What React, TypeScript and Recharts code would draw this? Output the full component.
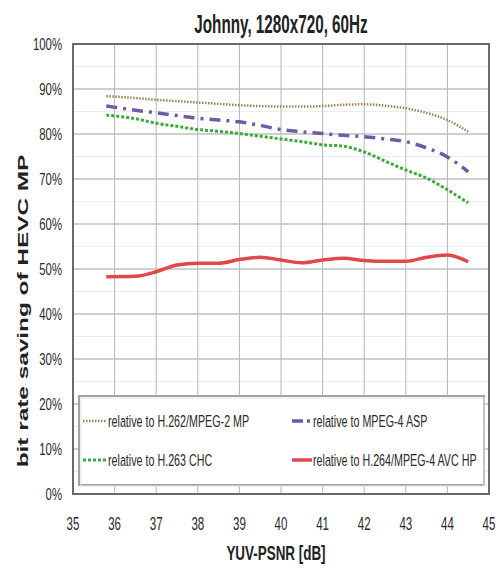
import React from 'react';
import { LineChart, Line, XAxis, YAxis, CartesianGrid } from 'recharts';

const title = 'Johnny, 1280x720, 60Hz';
const xLabel = 'YUV-PSNR [dB]';
const yLabel = 'bit rate saving of HEVC MP';

const psnr = [35.8, 36.5, 37, 37.5, 38, 38.5, 39, 39.5, 40, 40.5, 41, 41.5, 42, 42.5, 43, 43.5, 44, 44.5];
const vsMpeg2 = [88.4, 88.0, 87.6, 87.3, 87.0, 86.7, 86.4, 86.2, 86.1, 86.1, 86.2, 86.5, 86.6, 86.3, 85.7, 84.7, 83.1, 80.5];
const vsMpeg4 = [86.2, 85.3, 84.7, 84.1, 83.5, 83.1, 82.7, 81.9, 81.0, 80.5, 80.1, 79.7, 79.4, 78.9, 78.3, 76.9, 74.9, 71.6];
const vsH263 = [84.2, 83.4, 82.4, 81.7, 81.0, 80.6, 80.1, 79.5, 78.9, 78.3, 77.6, 77.3, 76.0, 74.0, 72.0, 70.2, 67.6, 64.7];
const vsAvc = [48.3, 48.4, 49.4, 50.9, 51.3, 51.3, 52.1, 52.6, 52.0, 51.4, 52.0, 52.4, 51.9, 51.7, 51.7, 52.6, 53.1, 51.6];

const xTicks = [35, 36, 37, 38, 39, 40, 41, 42, 43, 44, 45];
const yTicks = [0, 10, 20, 30, 40, 50, 60, 70, 80, 90, 100];
const yMinor = [5, 15, 25, 35, 45, 55, 65, 75, 85, 95];

const seriesNames = [
  'relative to H.262/MPEG-2 MP',
  'relative to MPEG-4 ASP',
  'relative to H.263 CHC',
  'relative to H.264/MPEG-4 AVC HP',
];

const data = psnr.map((x, i) => ({
  x,
  mpeg2: vsMpeg2[i],
  mpeg4: vsMpeg4[i],
  h263: vsH263[i],
  avc: vsAvc[i],
}));

const FONT = '"Liberation Sans", Arial, sans-serif';

const styles = [
  { key: 'mpeg2', color: '#9b8258', width: 2.5, dash: '1.5 1.5' as string | undefined },
  { key: 'mpeg4', color: '#6b5ca5', width: 3.5, dash: '11 6 3 6' as string | undefined },
  { key: 'h263', color: '#3aab3a', width: 3, dash: '3 2' as string | undefined },
  { key: 'avc', color: '#e2474b', width: 3.5, dash: undefined as string | undefined },
];

const legendSample = [
  { x1: 83, x2: 107, dash: '1.5 1.5' },
  { x1: 292, x2: 311, dash: '11 4 3 6' },
  { x1: 83, x2: 107, dash: '3 2' },
  { x1: 292, x2: 312, dash: undefined as string | undefined },
];

const YTick = (props: any) => {
  const { y, payload } = props;
  return (
    <g transform={`translate(62,${y})`}>
      <text transform="scale(0.69,1)" textAnchor="end" dy="0.36em" fontFamily={FONT} fontSize={16.5} fill="#2a2a2a">
        {`${payload.value}%`}
      </text>
    </g>
  );
};

const XTick = (props: any) => {
  const { x, payload } = props;
  return (
    <g transform={`translate(${x},530)`}>
      <text transform="scale(0.64,1)" textAnchor="middle" fontFamily={FONT} fontSize={18} fill="#2a2a2a">
        {payload.value}
      </text>
    </g>
  );
};

const LegendBox = () => (
  <svg width={499} height={575} style={{ position: 'absolute', left: 0, top: 0, pointerEvents: 'none' }}>
    <rect x={79} y={396} width={405} height={89} fill="#fff" stroke="#a3a3a3" strokeWidth={2} />
    <rect x={81} y={398} width={403} height={88} fill="none" stroke="#e2e2e2" strokeWidth={1} />
    {styles.map((s, i) => {
      const col = i % 2;
      const row = Math.floor(i / 2);
      const cy = row === 0 ? 421 : 460;
      const tx = col === 0 ? 108 : 313;
      const smp = legendSample[i];
      return (
        <g key={s.key}>
          <line x1={smp.x1} y1={cy} x2={smp.x2} y2={cy} stroke={s.color} strokeWidth={s.width} strokeDasharray={smp.dash} />
          <g transform={`translate(${tx},${cy})`}>
            <text transform="scale(0.65,1)" dy="0.36em" fontFamily={FONT} fontSize={16.5} fill="#2a2a2a">
              {seriesNames[i]}
            </text>
          </g>
        </g>
      );
    })}
  </svg>
);

export default function App() {
  return (
    <div style={{ position: 'absolute', left: 0, top: 0, width: 499, height: 575, background: '#fff', overflow: 'hidden' }}>
      <LineChart width={499} height={575} data={data} margin={{ top: 44, right: 10, left: 0, bottom: 0 }}>
        <CartesianGrid horizontal={true} vertical={false} horizontalValues={yMinor} stroke="#ececec" strokeWidth={1} />
        <CartesianGrid horizontal={true} vertical={false} horizontalValues={yTicks} stroke="#cfcfcf" strokeWidth={2} />
        <CartesianGrid horizontal={false} vertical={true} verticalValues={xTicks} stroke="#b5b5b5" strokeWidth={1} />
        <XAxis
          dataKey="x"
          type="number"
          domain={[35, 45]}
          ticks={xTicks}
          allowDataOverflow
          height={81}
          axisLine={false}
          tickLine={false}
          tick={XTick}
        />
        <YAxis
          type="number"
          domain={[0, 100]}
          ticks={yTicks}
          width={73}
          axisLine={false}
          tickLine={false}
          tick={YTick}
        />
        {styles.map((s) => (
          <Line
            key={s.key}
            dataKey={s.key}
            type="monotone"
            stroke={s.color}
            strokeWidth={s.width}
            strokeDasharray={s.dash}
            dot={false}
            activeDot={false}
            isAnimationActive={false}
          />
        ))}
      </LineChart>
      <LegendBox />
      <svg width={499} height={575} style={{ position: 'absolute', left: 0, top: 0, pointerEvents: 'none' }}>
        <rect x={73} y={44} width={416} height={450} fill="none" stroke="#6a6a6a" strokeWidth={2} />
        <g transform="translate(281,33)">
          <text transform="scale(0.61,1)" textAnchor="middle" fontFamily={FONT} fontWeight="bold" fontSize={25} fill="#222">
            {title}
          </text>
        </g>
        <g transform="translate(276,560)">
          <text transform="scale(0.64,1)" textAnchor="middle" fontFamily={FONT} fontWeight="bold" fontSize={21} fill="#222">
            {xLabel}
          </text>
        </g>
        <g transform="translate(28,311) rotate(-90)">
          <text transform="scale(1.74,1)" textAnchor="middle" fontFamily={FONT} fontWeight="bold" fontSize={14} fill="#222">
            {yLabel}
          </text>
        </g>
      </svg>
    </div>
  );
}
